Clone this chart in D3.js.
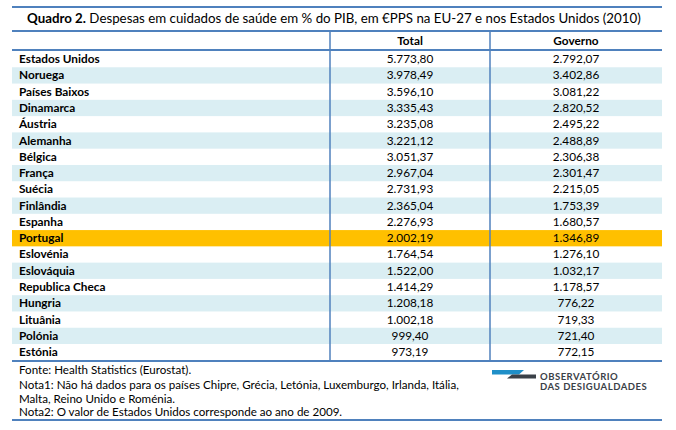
<!DOCTYPE html>
<html><head><meta charset="utf-8">
<script src="https://cdn.jsdelivr.net/npm/d3@7"></script>
<style>body{margin:0;background:#fff}svg{display:block}text{font-family:Lato,"Open Sans",sans-serif;fill:#000}</style>
</head><body>
<svg id="c" width="676" height="430"></svg>
<script>
const countries = ["Estados Unidos","Noruega","Países Baixos","Dinamarca","Áustria","Alemanha","Bélgica","França","Suécia","Finlândia","Espanha","Portugal","Eslovénia","Eslováquia","Republica Checa","Hungria","Lituânia","Polónia","Estónia"];
const total = [5773.80,3978.49,3596.10,3335.43,3235.08,3221.12,3051.37,2967.04,2731.93,2365.04,2276.93,2002.19,1764.54,1522.00,1414.29,1208.18,1002.18,999.40,973.19];
const governo = [2792.07,3402.86,3081.22,2820.52,2495.22,2488.89,2306.38,2301.47,2215.05,1753.39,1680.57,1346.89,1276.10,1032.17,1178.57,776.22,719.33,721.40,772.15];
const columns = ["Total","Governo"];
const highlight = "Portugal";
const notes = ["Fonte: Health Statistics (Eurostat).","Nota1: Não há dados para os países Chipre, Grécia, Letónia, Luxemburgo, Irlanda, Itália,","Malta, Reino Unido e Roménia.","Nota2: O valor de Estados Unidos corresponde ao ano de 2009."];

const svg = d3.select("#c");
const L = 12, R = 662;
const lineColor = "#4f81bd";
const fmt = d3.formatLocale({decimal:",", thousands:".", grouping:[3], currency:["",""]}).format(",.2f");

const y = d3.scaleBand().domain(countries).range([51, 360.3]).padding(0);
const x = d3.scaleOrdinal().domain(["name"].concat(columns)).range([19, 410, 576]);

// stripes
svg.append("g").selectAll("rect").data(countries).join("rect")
  .attr("x", L).attr("width", R - L)
  .attr("y", d => y(d)).attr("height", y.bandwidth())
  .attr("fill", (d,i) => d === highlight ? "#ffc000" : (i % 2 === 1 ? "#daeef3" : "none"));

// vertical dividers
[330, 490].forEach(xx => svg.append("line").attr("x1", xx).attr("x2", xx).attr("y1", 31).attr("y2", 361)
  .attr("stroke", lineColor).attr("stroke-width", 1.5));

// horizontal lines
[7, 31, 50, 361, 420].forEach(yy => svg.append("line").attr("x1", L).attr("x2", R).attr("y1", yy).attr("y2", yy)
  .attr("stroke", lineColor).attr("stroke-width", 2.2));

// title
const t = svg.append("text").attr("x", 27).attr("y", 23).attr("font-size", 13.3);
t.append("tspan").attr("font-weight", "bold").text("Quadro 2.");
t.append("tspan").text(" Despesas em cuidados de saúde em % do PIB, em €PPS na EU-27 e nos Estados Unidos (2010)");

// header
svg.append("g").selectAll("text").data(columns).join("text")
  .attr("x", d => x(d)).attr("y", 45).attr("text-anchor", "middle")
  .attr("font-size", 11.8).attr("font-weight", "bold").text(d => d);

// rows
const rows = svg.append("g").selectAll("g").data(countries).join("g")
  .attr("transform", d => `translate(0,${y(d) + y.bandwidth()/2 + 4})`);
rows.append("text").attr("x", x("name")).attr("font-size", 11.8).attr("font-weight", "bold").text(d => d);
rows.append("text").attr("x", x("Total")).attr("text-anchor", "middle").attr("font-size", 11.8).text((d,i) => fmt(total[i]));
rows.append("text").attr("x", x("Governo")).attr("text-anchor", "middle").attr("font-size", 11.8).text((d,i) => fmt(governo[i]));

// notes
svg.append("g").selectAll("text").data(notes).join("text")
  .attr("x", 19).attr("y", (d,i) => [374, 389, 402.5, 416][i]).attr("font-size", 11.6).text(d => d);

// logo
const lg = svg.append("g");
lg.append("path").attr("d", "M492,370 L524,370 L519,374.5 L492,374.5 Z").attr("fill", "#1f8fc8");
lg.append("path").attr("d", "M512,374.5 L536,374.5 L536,378.5 L507,378.5 Z").attr("fill", "#3b4148");
lg.append("text").attr("x", 540).attr("y", 379.5).attr("font-size", 9.5).attr("font-weight", "bold").style("fill", "#3b4148").attr("letter-spacing", 0.5).text("OBSERVATÓRIO");
lg.append("text").attr("x", 540).attr("y", 389.5).attr("font-size", 9.5).attr("font-weight", "bold").style("fill", "#3b4148").attr("letter-spacing", 0.5).text("DAS DESIGUALDADES");
</script>
</body></html>
